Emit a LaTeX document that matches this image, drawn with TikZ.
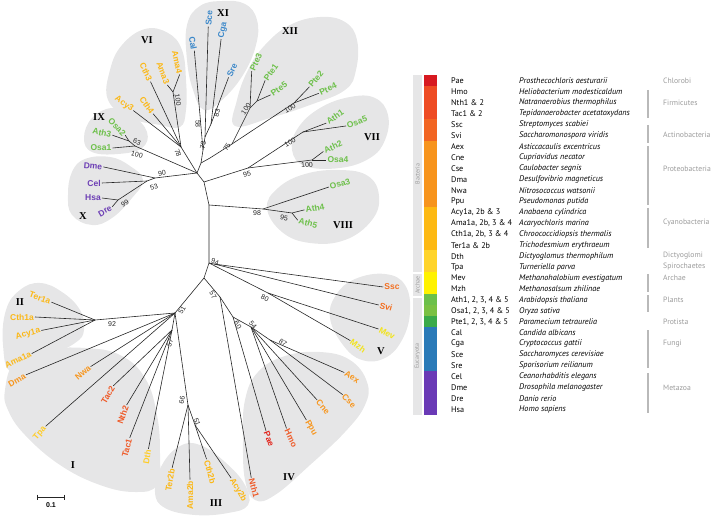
\documentclass[tikz,border=0pt]{standalone}
\usepackage{fontspec}
\setmainfont{Liberation Sans}
\newfontfamily\rnfam{Liberation Serif}
\newfontfamily\legfam{PT Sans}
\definecolor{cPae}{HTML}{E2231A}
\definecolor{cFirm}{HTML}{EF5A28}
\definecolor{cAct}{HTML}{F36F21}
\definecolor{cPro}{HTML}{F7961E}
\definecolor{cCya}{HTML}{FBB817}
\definecolor{cDic}{HTML}{FFCD2A}
\definecolor{cArc}{HTML}{F2E31B}
\definecolor{cPla}{HTML}{6DC04A}
\definecolor{cFun}{HTML}{3A87C9}
\definecolor{cMet}{HTML}{6D3FB5}
\definecolor{bPae}{HTML}{D71920}
\definecolor{bFirm}{HTML}{EE4B23}
\definecolor{bAct}{HTML}{F26522}
\definecolor{bPro}{HTML}{F7941D}
\definecolor{bCya}{HTML}{FDB913}
\definecolor{bDic}{HTML}{FFD42A}
\definecolor{bArc}{HTML}{FFF200}
\definecolor{bAth}{HTML}{6CC04A}
\definecolor{bOsa}{HTML}{7AC143}
\definecolor{bPte}{HTML}{3AAA4A}
\definecolor{bFun}{HTML}{2A7AB8}
\definecolor{bMet}{HTML}{6A3AB6}
\definecolor{blobg}{HTML}{E6E6E7}
\definecolor{grp}{HTML}{9B9B9B}
\tikzset{
  br/.style={draw=black!85, line width=0.6pt},
  lf/.style={font=\fontsize{8.5}{9}\selectfont\bfseries, inner sep=1pt},
  bs/.style={font=\fontsize{7}{8}\selectfont, inner sep=0pt, text=black!85},
  rn/.style={font=\rnfam\bfseries\fontsize{10.5}{11}\selectfont, inner sep=0pt},
  blob/.style={fill=blobg, draw=none},
  legc/.style={font=\legfam\fontsize{8.2}{9}\selectfont, inner sep=0pt},
  legs/.style={font=\legfam\itshape\fontsize{8.2}{9}\selectfont, inner sep=0pt},
  grpt/.style={font=\legfam\fontsize{7.7}{8}\selectfont, inner sep=0pt, text=grp},
  grpl/.style={draw=grp!70, line width=1.2pt},
  kgl/.style={font=\legfam\fontsize{6}{6}\selectfont, inner sep=0pt, text=grp},
}
\newcommand\legrow[4]{%
  \fill[#4] (424,{75.3+10.95*#1}) rectangle (437,{75.6+10.95*(#1+1)});
  \node[legc, anchor=west] (lc#1) at (451,{81+10.95*#1}) {#2};
  \node[legs, anchor=west] (ls#1) at (519,{81+10.95*#1}) {#3};}
\begin{document}
\begin{tikzpicture}[x=1pt,y=-1pt]
\useasboundingbox (0,0) rectangle (711,518);
% ---------- clade shading ----------
\fill[blob] plot[smooth cycle, tension=0.7] coordinates {(204,110) (193,90) (187,60) (187,25) (200,6) (222,1) (245,4) (257,20) (256,45) (243,75) (222,100)};
\fill[blob] plot[smooth cycle, tension=0.7] coordinates {(108,100) (110,70) (122,45) (145,29) (168,33) (182,50) (186,80) (186,110) (180,127) (160,125) (130,118)};
\fill[blob] plot[smooth cycle, tension=0.7] coordinates {(84,138) (92,118) (112,108) (132,115) (147,132) (142,148) (118,154) (92,152)};
\fill[blob] plot[smooth cycle, tension=0.7] coordinates {(68,195) (72,172) (85,159) (110,157) (130,166) (143,180) (132,198) (112,218) (92,225) (72,215)};
\fill[blob] plot[smooth cycle, tension=0.7] coordinates {(235,126) (237,100) (248,70) (265,45) (290,25) (320,17) (345,22) (357,40) (356,70) (345,90) (310,105) (270,118)};
\fill[blob] plot[smooth cycle, tension=0.7] coordinates {(292,150) (298,128) (320,108) (350,97) (375,98) (388,115) (385,140) (370,158) (340,168) (305,166)};
\fill[blob] plot[smooth cycle, tension=0.7] coordinates {(267,208) (278,188) (305,174) (340,170) (368,176) (379,196) (372,220) (345,240) (310,243) (282,232)};
\fill[blob] plot[smooth cycle, tension=0.7] coordinates {(330,318) (336,295) (355,279) (385,274) (405,285) (410,312) (402,340) (385,358) (362,360) (343,345)};
\fill[blob] plot[smooth cycle, tension=0.7] coordinates {(243,440) (245,400) (258,372) (285,356) (320,352) (350,360) (367,382) (365,405) (345,432) (310,465) (275,495) (255,500) (245,480)};
\fill[blob] plot[smooth cycle, tension=0.7] coordinates {(155,492) (162,465) (180,446) (200,445) (225,462) (245,485) (248,505) (228,513) (195,515) (165,508)};
\fill[blob] plot[smooth cycle, tension=0.7] coordinates {(5,390) (15,362) (45,350) (85,348) (120,355) (145,378) (157,415) (160,455) (157,485) (135,492) (100,485) (60,465) (25,435) (8,410)};
\fill[blob] plot[smooth cycle, tension=0.7] coordinates {(3,345) (6,310) (20,290) (40,283) (62,292) (80,310) (84,330) (75,343) (45,358) (12,372)};
% ---------- internal nodes ----------
\coordinate (J1) at (197,173); \coordinate (J2) at (204,182); \coordinate (J3) at (209,205);
\coordinate (J4) at (209,263); \coordinate (J5) at (204,278);
\coordinate (nX90) at (155,178); \coordinate (nX53) at (147,181); \coordinate (nX99) at (118,200);
\coordinate (nIX) at (135,146); \coordinate (nIX63) at (129,141);
\coordinate (nVI) at (181,147); \coordinate (nAma) at (173,92);
\coordinate (n73) at (201,163); \coordinate (nXI) at (203,150); \coordinate (n58) at (205,137); \coordinate (n83) at (211,124);
\coordinate (n75) at (210,158); \coordinate (nXII) at (232,144); \coordinate (nPte) at (250,108); \coordinate (nP15) at (257,101); \coordinate (nP24) at (294,103);
\coordinate (n95) at (248,168); \coordinate (nVIIa) at (303,132); \coordinate (nVIIb) at (312,160);
\coordinate (n98) at (263,209); \coordinate (nV95) at (292,213);
\coordinate (nSS) at (214,264); \coordinate (n80) at (268,293);
\coordinate (n57R) at (220,297); \coordinate (n60) at (233,317); \coordinate (n54) at (251,327); \coordinate (n87) at (270,340);
\coordinate (n51) at (175,313); \coordinate (n92) at (95,320); \coordinate (n57L) at (172,330); \coordinate (n66) at (188,405); \coordinate (n51b) at (195,425);
% ---------- leaf labels ----------
\node[lf, text=cMet, rotate=-5] (tDme) at (93,166) {Dme};
\node[lf, text=cMet] (tCel) at (94,183) {Cel};
\node[lf, text=cMet] (tHsa) at (93,198) {Hsa};
\node[lf, text=cMet, rotate=30] (tDre) at (105,211) {Dre};
\node[lf, text=cPla] (tOsa1) at (101,148) {Osa1};
\node[lf, text=cPla, rotate=-12] (tAth3) at (102,133) {Ath3};
\node[lf, text=cPla, rotate=-45] (tOsa2) at (117,127) {Osa2};
\node[lf, text=cCya, rotate=-35] (tAcy3) at (124,104) {Acy3};
\node[lf, text=cCya, rotate=-55] (tCth4) at (147,105) {Cth4};
\node[lf, text=cCya, rotate=-65] (tCth3) at (146,72) {Cth3};
\node[lf, text=cCya, rotate=-70] (tAma3) at (163,73) {Ama3};
\node[lf, text=cCya, rotate=-78] (tAma4) at (177,62) {Ama4};
\node[lf, text=cFun, rotate=-80] (tCal) at (193,43) {Cal};
\node[lf, text=cFun, rotate=85] (tSce) at (209,18) {Sce};
\node[lf, text=cFun, rotate=78] (tCga) at (223,30) {Cga};
\node[lf, text=cFun, rotate=65] (tSre) at (232,70) {Sre};
\node[lf, text=cPla, rotate=65] (tPte3) at (256,62) {Pte3};
\node[lf, text=cPla, rotate=55] (tPte1) at (271,72) {Pte1};
\node[lf, text=cPla, rotate=35] (tPte5) at (279,89) {Pte5};
\node[lf, text=cPla, rotate=50] (tPte2) at (316,79) {Pte2};
\node[lf, text=cPla, rotate=25] (tPte4) at (328,89) {Pte4};
\node[lf, text=cPla, rotate=35] (tAth1) at (335,117) {Ath1};
\node[lf, text=cPla, rotate=20] (tOsa5) at (357,122) {Osa5};
\node[lf, text=cPla, rotate=25] (tAth2) at (333,147) {Ath2};
\node[lf, text=cPla] (tOsa4) at (338,160) {Osa4};
\node[lf, text=cPla, rotate=15] (tOsa3) at (340,184) {Osa3};
\node[lf, text=cPla, rotate=10] (tAth4) at (315,208) {Ath4};
\node[lf, text=cPla, rotate=-15] (tAth5) at (308,223) {Ath5};
\node[lf, text=cAct] (tSsc) at (392,287) {Ssc};
\node[lf, text=cAct, rotate=-15] (tSvi) at (386,307) {Svi};
\node[lf, text=cArc, rotate=-25] (tMev) at (387,333) {Mev};
\node[lf, text=cArc, rotate=-35] (tMzh) at (358,346) {Mzh};
\node[lf, text=cPro, rotate=-30] (tAex) at (352,377) {Aex};
\node[lf, text=cPro, rotate=-45] (tCse) at (349,401) {Cse};
\node[lf, text=cPro, rotate=-50] (tCne) at (323,407) {Cne};
\node[lf, text=cPro, rotate=-60] (tPpu) at (311,428) {Ppu};
\node[lf, text=cFirm, rotate=-65] (tHmo) at (291,438) {Hmo};
\node[lf, text=cPae, rotate=-70] (tPae) at (269,439) {Pae};
\node[lf, text=cFirm, rotate=-75] (tNth1) at (254,488) {Nth1};
\node[lf, text=cCya, rotate=-60] (tAcy2b) at (238,490) {Acy2b};
\node[lf, text=cCya, rotate=-75] (tCth2b) at (210,472) {Cth2b};
\node[lf, text=cCya, rotate=90] (tAma2b) at (190,495) {Ama2b};
\node[lf, text=cCya, rotate=80] (tTer2b) at (170,480) {Ter2b};
\node[lf, text=cDic, rotate=80] (tDth) at (147,457) {Dth};
\node[lf, text=cFirm, rotate=75] (tTac1) at (127,448) {Tac1};
\node[lf, text=cFirm, rotate=70] (tNth2) at (123,415) {Nth2};
\node[lf, text=cFirm, rotate=60] (tTac2) at (108,395) {Tac2};
\node[lf, text=cPro, rotate=40] (tNwa) at (83,373) {Nwa};
\node[lf, text=cDic, rotate=50] (tTpa) at (40,433) {Tpa};
\node[lf, text=cPro, rotate=30] (tDma) at (17,380) {Dma};
\node[lf, text=cCya, rotate=25] (tAma1a) at (18,360) {Ama1a};
\node[lf, text=cCya, rotate=15] (tAcy1a) at (28,334) {Acy1a};
\node[lf, text=cCya] (tCth1a) at (22,317) {Cth1a};
\node[lf, text=cCya, rotate=-20] (tTer1a) at (40,298) {Ter1a};
% ---------- branches ----------
\draw[br] (J1) -- (J2) -- (J3) -- (J4) -- (J5);
\draw[br] (J1) -- (nX90) -- (tDme.east);
\draw[br] (nX90) -- (nX53) -- (tCel.east);
\draw[br] (nX53) -- (nX99) -- (tHsa.east);
\draw[br] (nX99) -- (tDre.east);
\draw[br] (J1) -- (nIX) -- (tOsa1.east);
\draw[br] (nIX) -- (nIX63) -- (tAth3.east);
\draw[br] (nIX63) -- (tOsa2.east);
\draw[br] (J1) -- (nVI) -- (tAcy3.east);
\draw[br] (nVI) -- (tCth4.east);
\draw[br] (nVI) -- (tCth3.east);
\draw[br] (nVI) -- (nAma) -- (tAma3.east);
\draw[br] (nAma) -- (tAma4.east);
\draw[br] (J1) -- (n73) -- (nXI) -- (tCal.east);
\draw[br] (nXI) -- (n58) -- (tSce.west);
\draw[br] (n58) -- (n83) -- (tCga.west);
\draw[br] (n83) -- (tSre.west);
\draw[br] (n73) -- (n75) -- (nXII) -- (nP24) -- (tPte2.west);
\draw[br] (nP24) -- (tPte4.west);
\draw[br] (nXII) -- (nPte) -- (tPte3.west);
\draw[br] (nPte) -- (nP15) -- (tPte1.west);
\draw[br] (nP15) -- (tPte5.west);
\draw[br] (J2) -- (n95) -- (nVIIa) -- (tAth1.west);
\draw[br] (nVIIa) -- (tOsa5.west);
\draw[br] (n95) -- (nVIIb) -- (tAth2.west);
\draw[br] (nVIIb) -- (tOsa4.west);
\draw[br] (J3) -- (n98) -- (tOsa3.west);
\draw[br] (n98) -- (nV95) -- (tAth4.west);
\draw[br] (nV95) -- (tAth5.west);
\draw[br] (J4) -- (nSS) -- (tSsc.west);
\draw[br] (nSS) -- (tSvi.west);
\draw[br] (J4) -- (n80) -- (tMev.west);
\draw[br] (n80) -- (tMzh.west);
\draw[br] (J5) -- (n57R) -- (tNth1.west);
\draw[br] (n57R) -- (n60) -- (tPae.west);
\draw[br] (n60) -- (n54) -- (tHmo.west);
\draw[br] (n54) -- (tPpu.west);
\draw[br] (n54) -- (tCne.west);
\draw[br] (n54) -- (n87) -- (tAex.west);
\draw[br] (n87) -- (tCse.west);
\draw[br] (J5) -- (n51) -- (n92) -- (tTer1a.east);
\draw[br] (n92) -- (tCth1a.east);
\draw[br] (n92) -- (tAcy1a.east);
\draw[br] (n92) -- (tAma1a.east);
\draw[br] (n51) -- (tDma.east);
\draw[br] (n51) -- (tNwa.east);
\draw[br] (n51) -- (tTpa.east);
\draw[br] (n51) -- (n57L) -- (tTac2.east);
\draw[br] (n57L) -- (tNth2.east);
\draw[br] (n57L) -- (tTac1.east);
\draw[br] (n57L) -- (tDth.east);
\draw[br] (n51) -- (n66) -- (tTer2b.east);
\draw[br] (n66) -- (tAma2b.east);
\draw[br] (n66) -- (n51b) -- (tCth2b.west);
\draw[br] (n51b) -- (tAcy2b.west);
% ---------- bootstrap values ----------
\node[bs, rotate=10] (b90) at (162,173) {90};
\node[bs, rotate=20] (b53) at (154,187) {53};
\node[bs, rotate=30] (b99) at (125,203) {99};
\node[bs, rotate=-20] (b63) at (137,142) {63};
\node[bs, rotate=-15] (b100a) at (137,155) {100};
\node[bs, rotate=-70] (b78) at (178,153) {78};
\node[bs, rotate=-80] (b100b) at (178,100) {100};
\node[bs, rotate=-90] (b58) at (198,124) {58};
\node[bs, rotate=80] (b73) at (203,145) {73};
\node[bs, rotate=75] (b83) at (217,113) {83};
\node[bs, rotate=60] (b75) at (227,147) {75};
\node[bs, rotate=55] (b100c) at (246,109) {100};
\node[bs, rotate=30] (b100d) at (290,108) {100};
\node[bs, rotate=30] (b100e) at (290,142) {100};
\node[bs, rotate=5] (b100f) at (307,165) {100};
\node[bs, rotate=15] (b95a) at (247,174) {95};
\node[bs] (b98) at (257,213) {98};
\node[bs, rotate=-10] (b95b) at (284,218) {95};
\node[bs, rotate=-20] (b94) at (215,262) {94};
\node[bs, rotate=-25] (b80) at (265,298) {80};
\node[bs, rotate=-60] (b57a) at (213,295) {57};
\node[bs, rotate=-60] (b60) at (238,325) {60};
\node[bs, rotate=-50] (b54) at (253,325) {54};
\node[bs, rotate=-35] (b87) at (283,343) {87};
\node[bs, rotate=60] (b51a) at (182,310) {51};
\node[bs] (b92) at (112,324) {92};
\node[bs, rotate=70] (b57b) at (170,343) {57};
\node[bs, rotate=80] (b66) at (182,400) {66};
\node[bs, rotate=-70] (b51b) at (197,422) {51};
% ---------- clade numerals ----------
\node[rn] (rI) at (73,465) {I};
\node[rn] (rII) at (20,302) {II};
\node[rn] (rIII) at (216,503) {III};
\node[rn] (rIV) at (289,477) {IV};
\node[rn] (rV) at (381,351) {V};
\node[rn] (rVI) at (147,40) {VI};
\node[rn] (rVII) at (372,137) {VII};
\node[rn] (rVIII) at (343,225) {VIII};
\node[rn] (rIX) at (99,117) {IX};
\node[rn] (rX) at (83,216) {X};
\node[rn] (rXI) at (223,13) {XI};
\node[rn] (rXII) at (290,31) {XII};
% ---------- scale bar ----------
\coordinate (sb1) at (37,497); \coordinate (sb2) at (64,497);
\draw[br] (sb1) -- (sb2);
\draw[br] ([yshift=2.5pt]sb1) -- ([yshift=-2.5pt]sb1);
\draw[br] ([yshift=2.5pt]sb2) -- ([yshift=-2.5pt]sb2);
\node[font=\fontsize{7}{8}\selectfont\bfseries, inner sep=0pt] (sbl) at (51,505) {0.1};
% ---------- legend ----------
\fill[blobg] (413,75.3) rectangle (422,272.3);
\fill[blobg] (413,274) rectangle (422,295.7);
\fill[blobg] (413,297.5) rectangle (422,415);
\node[kgl, rotate=90] (kBac) at (417.5,174) {Bacteria};
\node[kgl, rotate=90] (kArc) at (417.5,285) {Archae};
\node[kgl, rotate=90] (kEuc) at (417.5,356) {Eucaryota};
\legrow{0}{Pae}{Prosthecochloris aesturarii}{bPae}
\legrow{1}{Hmo}{Heliobacterium modesticaldum}{bFirm}
\legrow{2}{Nth1 \& 2}{Natranaerobius thermophilus}{bFirm}
\legrow{3}{Tac1 \& 2}{Tepidanaerobacter acetatoxydans}{bFirm}
\legrow{4}{Ssc}{Streptomyces scabiei}{bAct}
\legrow{5}{Svi}{Saccharomonospora viridis}{bAct}
\legrow{6}{Aex}{Asticcacaulis excentricus}{bPro}
\legrow{7}{Cne}{Cupriavidus necator}{bPro}
\legrow{8}{Cse}{Caulobacter segnis}{bPro}
\legrow{9}{Dma}{Desulfovibrio magneticus}{bPro}
\legrow{10}{Nwa}{Nitrosococcus watsonii}{bPro}
\legrow{11}{Ppu}{Pseudomonas putida}{bPro}
\legrow{12}{Acy1a, 2b \& 3}{Anabaena cylindrica}{bCya}
\legrow{13}{Ama1a, 2b, 3 \& 4}{Acaryochloris marina}{bCya}
\legrow{14}{Cth1a, 2b, 3 \& 4}{Chroococcidiopsis thermalis}{bCya}
\legrow{15}{Ter1a \& 2b}{Trichodesmium erythraeum}{bCya}
\legrow{16}{Dth}{Dictyoglomus thermophilum}{bDic}
\legrow{17}{Tpa}{Turneriella parva}{bDic}
\legrow{18}{Mev}{Methanohalobium evestigatum}{bArc}
\legrow{19}{Mzh}{Methanosalsum zhilinae}{bArc}
\legrow{20}{Ath1, 2, 3, 4 \& 5}{Arabidopsis thaliana}{bAth}
\legrow{21}{Osa1, 2, 3, 4 \& 5}{Oryza sativa}{bOsa}
\legrow{22}{Pte1, 2, 3, 4 \& 5}{Paramecium tetraurelia}{bPte}
\legrow{23}{Cal}{Candida albicans}{bFun}
\legrow{24}{Cga}{Cryptococcus gattii}{bFun}
\legrow{25}{Sce}{Saccharomyces cerevisiae}{bFun}
\legrow{26}{Sre}{Sporisorium reilianum}{bFun}
\legrow{27}{Cel}{Ceanorhabditis elegans}{bMet}
\legrow{28}{Dme}{Drosophila melanogaster}{bMet}
\legrow{29}{Dre}{Danio rerio}{bMet}
\legrow{30}{Hsa}{Homo sapiens}{bMet}
\node[grpt, anchor=west] (gChl) at (663,81) {Chlorobi};
\node[grpt, anchor=west] (gFir) at (663,103) {Firmicutes};
\node[grpt, anchor=west] (gAct) at (663,135) {Actinobacteria};
\node[grpt, anchor=west] (gPro) at (663,169) {Proteobacteria};
\node[grpt, anchor=west] (gCya) at (663,223) {Cyanobacteria};
\node[grpt, anchor=west] (gDic) at (663,256) {Dictyoglomi};
\node[grpt, anchor=west] (gSpi) at (663,267) {Spirochaetes};
\node[grpt, anchor=west] (gArc) at (663,278) {Archae};
\node[grpt, anchor=west] (gPla) at (663,300) {Plants};
\node[grpt, anchor=west] (gPrt) at (663,322) {Protista};
\node[grpt, anchor=west] (gFun) at (663,344) {Fungi};
\node[grpt, anchor=west] (gMet) at (663,388) {Metazoa};
\draw[grpl] (648,90) -- (648,118);
\draw[grpl] (648,125) -- (648,143);
\draw[grpl] (648,146) -- (648,205);
\draw[grpl] (648,208) -- (648,248);
\draw[grpl] (648,274) -- (648,292);
\draw[grpl] (648,295) -- (648,312);
\draw[grpl] (648,330) -- (648,368);
\draw[grpl] (648,373) -- (648,413);
\end{tikzpicture}
\end{document}
